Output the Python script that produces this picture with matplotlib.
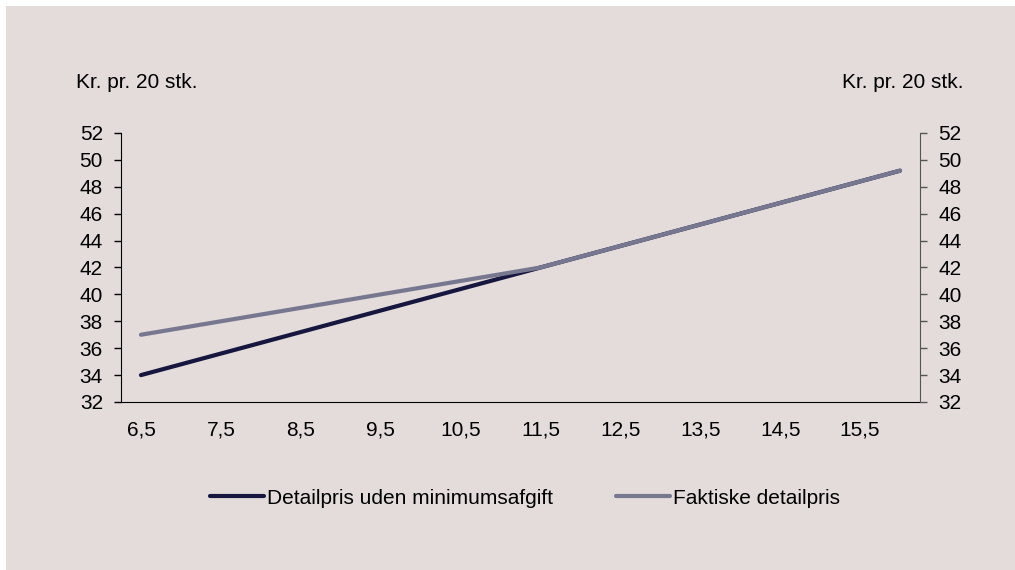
import matplotlib.pyplot as plt
from matplotlib.patches import Rectangle

# ==============================
# 数据
# ==============================
x_vals = [6.5, 7.0, 7.5, 8.0, 8.5, 9.0, 9.5, 10.0, 10.5, 11.0,
          11.5, 12.0, 12.5, 13.0, 13.5, 14.0, 14.5, 15.0, 15.5, 16.0]
uden_min = [34.0, 34.8, 35.6, 36.4, 37.2, 38.0, 38.8, 39.6, 40.4, 41.2,
            42.0, 42.8, 43.6, 44.4, 45.2, 46.0, 46.8, 47.6, 48.4, 49.2]
faktisk = [37.0, 37.5, 38.0, 38.5, 39.0, 39.5, 40.0, 40.5, 41.0, 41.5,
           42.0, 42.8, 43.6, 44.4, 45.2, 46.0, 46.8, 47.6, 48.4, 49.2]
x_ticks = [6.5, 7.5, 8.5, 9.5, 10.5, 11.5, 12.5, 13.5, 14.5, 15.5]
x_labels = ['6,5', '7,5', '8,5', '9,5', '10,5', '11,5', '12,5', '13,5', '14,5', '15,5']
y_ticks = [32, 34, 36, 38, 40, 42, 44, 46, 48, 50, 52]
names = ['Detailpris uden minimumsafgift', 'Faktiske detailpris']
unit = 'Kr. pr. 20 stk.'

bg = '#e3dcdb'
c_dark = '#16163f'
c_gray = '#77778f'

plt.rcParams['font.family'] = ['Liberation Sans', 'DejaVu Sans']
fs = 15

W, H = 1015, 570
fig = plt.figure(figsize=(W / 100, H / 100), dpi=100, facecolor='white')
fig.patches.append(Rectangle((6 / W, 0), 1, (H - 6) / H, transform=fig.transFigure,
                             facecolor=bg, edgecolor='none', zorder=-10))

ax = fig.add_axes([121 / W, 1 - 402 / H, (920 - 121) / W, (402 - 133) / H])
ax.set_facecolor('none')

ax.plot(x_vals, uden_min, color=c_dark, lw=3.0, solid_capstyle='round', label=names[0], zorder=3)
ax.plot(x_vals, faktisk, color=c_gray, lw=3.0, solid_capstyle='round', label=names[1], zorder=4)

ax.set_xlim(6.25, 16.25)
ax.set_ylim(32, 52)
ax.set_xticks(x_ticks)
ax.set_xticklabels(x_labels, fontsize=fs)
ax.set_yticks(y_ticks)
ax.set_yticklabels([str(v) for v in y_ticks], fontsize=fs)
ax.tick_params(axis='x', length=0, pad=13)
ax.tick_params(axis='y', length=5, width=1, pad=8, direction='out')

ax.spines['top'].set_visible(False)
ax.spines['right'].set_visible(False)
ax.spines['left'].set_color('black')
ax.spines['bottom'].set_color('black')

# højre akse
ax2 = ax.twinx()
ax2.set_ylim(32, 52)
ax2.set_yticks(y_ticks)
ax2.set_yticklabels([str(v) for v in y_ticks], fontsize=fs)
ax2.tick_params(axis='y', length=5, width=1, pad=8, direction='out', color='#555555')
for s in ['top', 'left', 'bottom']:
    ax2.spines[s].set_visible(False)
ax2.spines['right'].set_color('#555555')

fig.text(76 / W, 1 - 83 / H, unit, fontsize=fs, ha='left', va='center')
fig.text(964 / W, 1 - 83 / H, unit, fontsize=fs, ha='right', va='center')

h, l = ax.get_legend_handles_labels()
fig.legend(h, l, loc='center left', bbox_to_anchor=(210 / W, 1 - 498 / H), ncol=2,
           frameon=False, fontsize=fs, handlelength=2.6, handletextpad=0.15,
           columnspacing=3.0, borderpad=0, borderaxespad=0)

fig.savefig('out.png', dpi=100, facecolor='white')
